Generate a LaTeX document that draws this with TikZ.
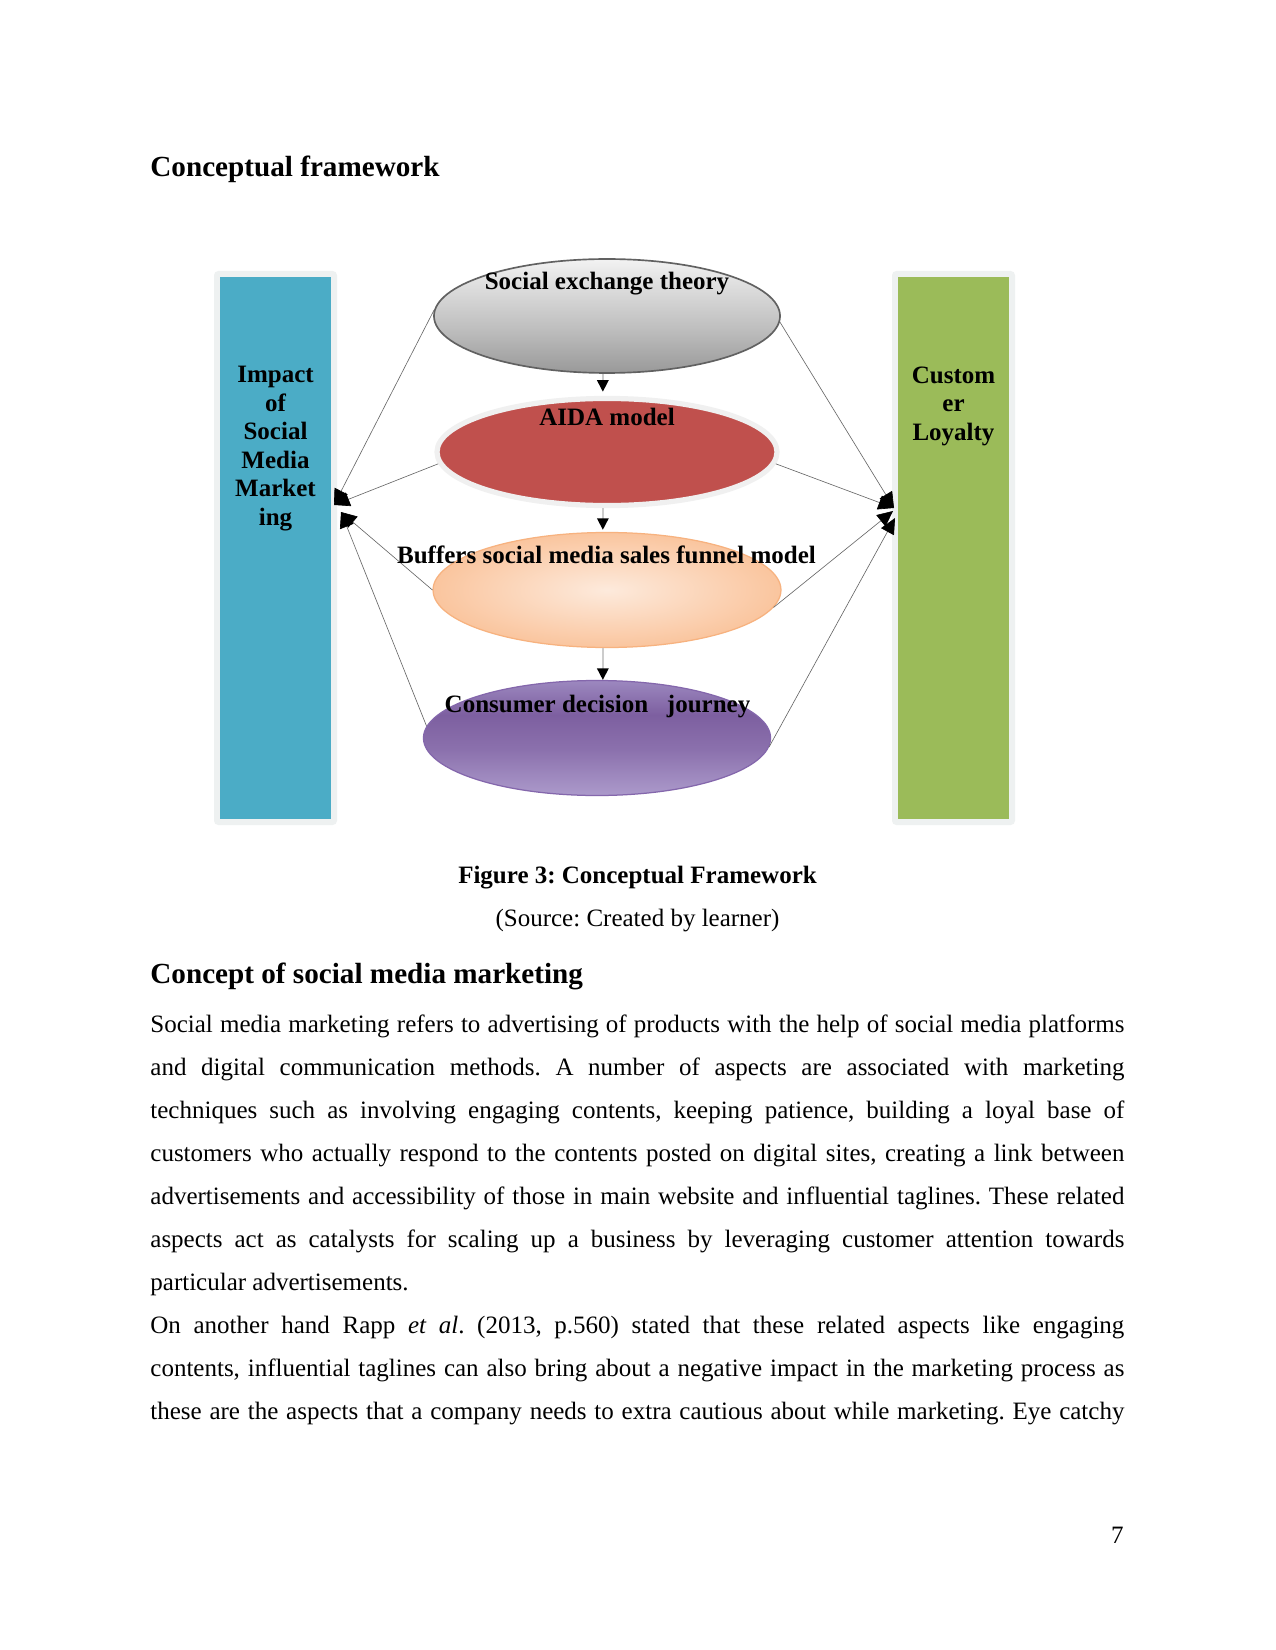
\documentclass[tikz,border=0pt]{standalone}
\usepackage{fontspec}
\setmainfont{Liberation Serif}
\usetikzlibrary{arrows.meta,shapes.geometric}
\frenchspacing
\definecolor{boxblue}{HTML}{4BACC6}
\definecolor{boxgreen}{HTML}{9BBB59}
\definecolor{aidared}{HTML}{C0504D}
\definecolor{peachout}{HTML}{FAC59E}
\definecolor{peachin}{HTML}{FDEADC}
\definecolor{peachline}{HTML}{F7B27F}
\definecolor{purpdark}{HTML}{7D5FA0}
\definecolor{purptop}{HTML}{9C88BF}
\definecolor{purpbot}{HTML}{AC9ACB}
\definecolor{purpline}{HTML}{8467AC}
\definecolor{glow}{HTML}{EEF1F1}
\definecolor{grayline}{HTML}{666666}
\pgfdeclareverticalshading{purpshade}{100bp}{color(0bp)=(purpbot); color(25bp)=(purpbot); color(45bp)=(purpdark!70!purpbot); color(60bp)=(purpdark); color(75bp)=(purptop); color(100bp)=(purptop)}
\pgfdeclareverticalshading{grayshade}{100bp}{color(0bp)=(black!40); color(25bp)=(black!40); color(45bp)=(black!25); color(65bp)=(black!12); color(75bp)=(black!5); color(100bp)=(black!5)}
\tikzset{
 bodyline/.style={anchor=base west, inner sep=0pt, font=\fontsize{12}{14}\selectfont},
 headtext/.style={anchor=base west, inner sep=0pt, font=\fontsize{14}{16}\selectfont\bfseries},
 captext/.style={anchor=base, inner sep=0pt, font=\fontsize{12}{14}\selectfont},
 lbl/.style={anchor=base, inner sep=0pt, font=\fontsize{12}{14}\selectfont\bfseries},
 boxlbl/.style={anchor=base, inner sep=0pt, align=center, font=\fontsize{12}{13.65}\selectfont\bfseries},
 colbox/.style={rectangle, draw=none, minimum width=53.3pt, minimum height=260.2pt, inner sep=0pt},
 oval/.style={ellipse, inner sep=0pt},
 conn/.style={draw=grayline, line width=0.3pt, -{Triangle[length=7.5pt,width=7pt,color=black]}},
 varrow/.style={draw=gray!40, line width=0.7pt, -{Triangle[length=5.5pt,width=5.5pt,color=black]}},
}
\newcommand{\jline}[1]{\makebox[467.5pt][s]{#1}}
\begin{document}
\begin{tikzpicture}[x=0.48pt,y=-0.48pt]
\useasboundingbox[fill=white] (0,0) rectangle (1275,1650);

% heading
\node[headtext] (h1) at (150,177) {Conceptual framework};

% side boxes with glow
\fill[glow, rounded corners=2pt] (214,271) rectangle (337,825);
\fill[glow, rounded corners=2pt] (892,271) rectangle (1015,825);
\node[colbox, fill=boxblue] (smm) at (275.5,548) {};
\node[colbox, fill=boxgreen] (loy) at (953.5,548) {};
\node[boxlbl] (smmtxt) at (275.5,525) {Impact\\of\\Social\\Media\\Market\\ing};
\node[boxlbl] (loytxt) at (953.5,440) {Custom\\er\\Loyalty};

% ellipses
\node[oval, minimum width=166.1pt, minimum height=54.7pt, shading=grayshade, draw=black!62, line width=0.8pt] (set) at (607,316) {};
\node[oval, minimum width=163.2pt, minimum height=51.4pt, fill=aidared, draw=black!6, line width=2.5pt] (aida) at (607,452) {};
\node[oval, minimum width=167pt, minimum height=55.2pt, shading=radial, inner color=peachin, outer color=peachout, draw=peachline, line width=0.6pt] (buf) at (607,590) {};
\node[oval, minimum width=166.6pt, minimum height=55.2pt, shading=purpshade, draw=purpline, line width=0.6pt] (cdj) at (597,738) {};

% vertical arrows
\draw[varrow] ([xshift=-2pt]set.south) -- ([xshift=-2pt,yshift=2pt]set.south |- aida.north);
\draw[varrow] ([xshift=-2pt]aida.south) -- ([xshift=-2pt,yshift=1pt]aida.south |- buf.north);
\draw[varrow] ([xshift=-2pt]buf.south) -- ([xshift=-2pt]buf.south |- cdj.north);

% connector end points
\coordinate (L1) at (334,505);
\coordinate (L2) at (341,512);
\coordinate (R1) at (894,508);
\coordinate (R2) at (893,511);
\coordinate (R3) at (895,518);

\draw[conn] (set.178) -- (L1);
\draw[conn] (aida.184) -- (L1);
\draw[conn] (buf.west) -- (L2);
\draw[conn] (cdj.176) -- (L2);
\draw[conn] (set.-2) -- (R1);
\draw[conn] (aida.-4) -- (R1);
\draw[conn] (buf.-6) -- (R2);
\draw[conn] (cdj.-3) -- (R3);

% ellipse labels
\node[lbl] (settxt) at (607,290) {Social exchange theory};
\node[lbl] (aidatxt) at (607,426) {AIDA model};
\node[lbl] (buftxt) at (606.5,563) {Buffers social media sales funnel model};
\node[lbl] (cdjtxt) at (597.5,712) {Consumer decision~~~journey};

% caption
\node[captext, font=\fontsize{12}{14}\selectfont\bfseries] (cap) at (637.5,883) {Figure 3: Conceptual Framework};
\node[captext] (src) at (637.5,926) {(Source: Created by learner)};

% section heading
\node[headtext] (h2) at (150,983) {Concept of social media marketing};

% body text
\node[bodyline] (b1) at (150,1032) {\jline{Social media marketing refers to advertising of products with the help of social media platforms}};
\node[bodyline] (b2) at (150,1075) {\jline{and digital communication methods. A number of aspects are associated with marketing}};
\node[bodyline] (b3) at (150,1118) {\jline{techniques such as involving engaging contents, keeping patience, building a loyal base of}};
\node[bodyline] (b4) at (150,1161) {\jline{customers who actually respond to the contents posted on digital sites, creating a link between}};
\node[bodyline] (b5) at (150,1204) {\jline{advertisements and accessibility of those in main website and influential taglines. These related}};
\node[bodyline] (b6) at (150,1247) {\jline{aspects act as catalysts for scaling up a business by leveraging customer attention towards}};
\node[bodyline] (b7) at (150,1290) {particular advertisements.};
\node[bodyline] (b8) at (150,1333) {\jline{On another hand Rapp \textit{et al}. (2013, p.560) stated that these related aspects like engaging}};
\node[bodyline] (b9) at (150,1376) {\jline{contents, influential taglines can also bring about a negative impact in the marketing process as}};
\node[bodyline] (b10) at (150,1419) {\jline{these are the aspects that a company needs to extra cautious about while marketing. Eye catchy}};

% page number
\node[bodyline, anchor=base east] (pg) at (1124,1543) {7};
\end{tikzpicture}
\end{document}
